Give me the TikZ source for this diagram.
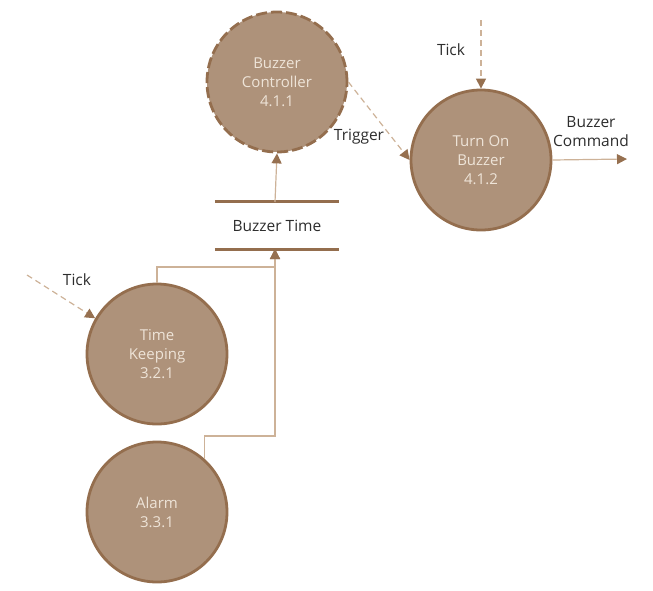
\documentclass[tikz,border=0pt]{standalone}
\usepackage{fontspec}
\setmainfont{Open Sans}
\usetikzlibrary{arrows.meta}
\definecolor{procfill}{RGB}{174,146,122}
\definecolor{procline}{RGB}{148,110,78}
\definecolor{flowline}{RGB}{205,178,152}
\definecolor{tipcol}{RGB}{150,112,80}
\definecolor{intext}{RGB}{238,228,216}
\definecolor{labtext}{RGB}{45,45,45}
\tikzset{
  proc/.style={circle, fill=procfill, draw=procline, line width=2.8pt,
    minimum size=140pt, inner sep=0pt, align=center, text=intext,
    font=\fontsize{15}{19}\selectfont},
  dproc/.style={proc, dash pattern=on 11pt off 4pt},
  lab/.style={text=labtext, font=\fontsize{15.5}{18}\selectfont, align=center, inner sep=1pt},
  flow/.style={draw=flowline, line width=1.2pt,
    -{Triangle[length=10pt,width=10pt,color=tipcol]}},
  dflow/.style={flow, dash pattern=on 6pt off 4pt},
  storeline/.style={draw=procline, line width=2.7pt}
}
\begin{document}
\begin{tikzpicture}[x=1pt,y=-1pt]
\useasboundingbox (0,0) rectangle (653,590);
% processes
\node[dproc] (bc) at (277,82) {Buzzer\\Controller\\4.1.1};
\node[proc] (tb) at (481,160) {Turn On\\Buzzer\\4.1.2};
\node[proc] (tk) at (157,354) {Time\\Keeping\\3.2.1};
\node[proc] (al) at (157,512) {Alarm\\3.3.1};
% data store
\node[lab, minimum width=124pt, minimum height=47pt] (st) at (277,225.5) {Buzzer Time};
\draw[storeline] (st.north west) -- (st.north east);
\draw[storeline] (st.south west) -- (st.south east);
% coordinates
\coordinate (tick1) at (481,20);
\coordinate (tick2) at (27,275);
\coordinate (cmd) at (627,159);
\coordinate (j1) at (275,267);
\coordinate (j2) at (275,436);
\coordinate (sb) at (275,249);
\coordinate (stt) at (275,202);
% flows
\draw[flow] (stt) -- (bc.south);
\draw[dflow] (bc.east) -- (tb.west);
\draw[dflow] (tick1) -- (tb.north);
\draw[flow] (tb.east) -- (cmd);
\draw[dflow] (tick2) -- (tk.150);
\draw[flow] (tk.north) |- (j1) -- (sb);
\draw[flow] (al.48) |- (j2) -- (sb);
% labels
\node[lab] (ltick1) at (451,50) {Tick};
\node[lab] (ltick2) at (77,280) {Tick};
\node[lab] (ltrig) at (359,137) {Trigger};
\node[lab, font=\fontsize{15.5}{19}\selectfont] (lcmd) at (591,132) {Buzzer\\Command};
\end{tikzpicture}
\end{document}
